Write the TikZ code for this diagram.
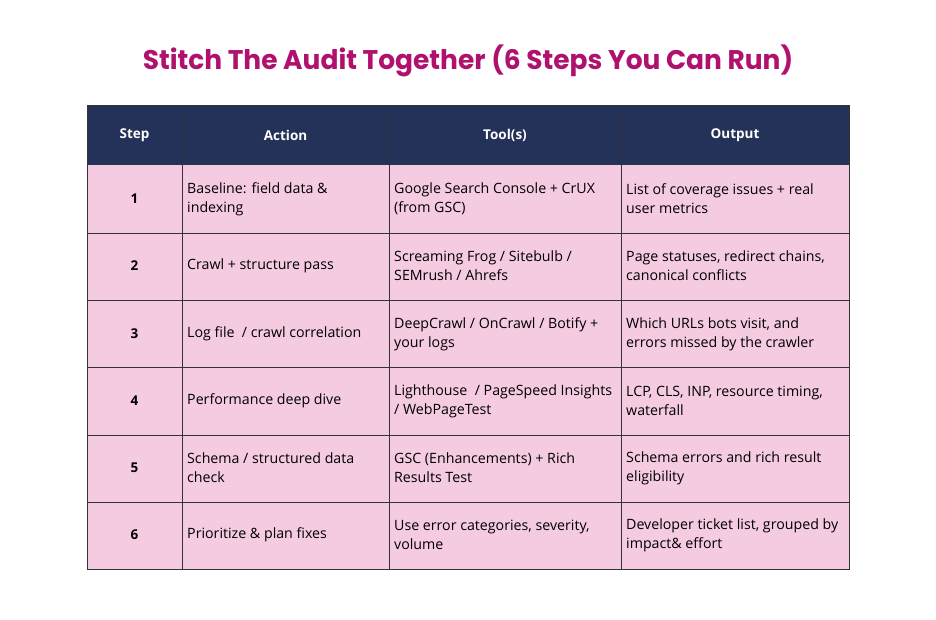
\documentclass[tikz,border=0pt]{standalone}
\usepackage{fontspec}
\setmainfont{Open Sans}
\newfontfamily\titlefont{Poppins}
\definecolor{navy}{HTML}{243158}
\definecolor{rowpink}{HTML}{F5CBE1}
\definecolor{titlemag}{HTML}{B0106E}
\begin{document}
\begin{tikzpicture}[x=1pt,y=-1pt,
  cell/.style={anchor=west,align=left,font=\fontsize{14.2}{19}\selectfont,inner sep=0pt},
  hcell/.style={text=white,font=\fontsize{13.5}{16}\selectfont\bfseries,inner sep=0pt},
  num/.style={font=\fontsize{13.5}{16}\selectfont\bfseries,inner sep=0pt}]
\useasboundingbox (0,0) rectangle (936,620);
\node[font=\titlefont\fontsize{27}{30}\selectfont\bfseries,text=titlemag,xscale=0.98] (title) at (468,61) {Stitch The Audit Together (6 Steps You Can Run)};
\fill[navy] (87,105) rectangle (849,165);
\fill[rowpink] (87,165) rectangle (849,569);
\foreach \y in {233,300,367,435,502} \draw[black!80,line width=0.7pt] (87,\y) -- (849,\y);
\foreach \x in {182,389,621} \draw[black!80,line width=0.7pt] (\x,105) -- (\x,569);
\draw[black!80,line width=0.7pt] (87,105) rectangle (849,569);
\node[hcell] (h1) at (134.5,135) {Step};
\node[hcell] (h2) at (285.5,135) {Action};
\node[hcell] (h3) at (505,135) {Tool(s)};
\node[hcell] (h4) at (735,135) {Output};
\foreach \n/\y/\a/\t/\o in {
 1/199/{Baseline: field data \&\\indexing}/{Google Search Console + CrUX\\(from GSC)}/{List of coverage issues + real\\user metrics},
 2/266/{Crawl + structure pass}/{Screaming Frog / Sitebulb /\\SEMrush / Ahrefs}/{Page statuses, redirect chains,\\canonical conflicts},
 3/334/{Log file\ \ / crawl correlation}/{DeepCrawl / OnCrawl / Botify +\\your logs}/{Which URLs bots visit, and\\errors missed by the crawler},
 4/401/{Performance deep dive}/{Lighthouse\ \ / PageSpeed Insights\\/ WebPageTest}/{LCP, CLS, INP, resource timing,\\waterfall},
 5/468/{Schema / structured data\\check}/{GSC (Enhancements) + Rich\\Results Test}/{Schema errors and rich result\\eligibility},
 6/535/{Prioritize \& plan fixes}/{Use error categories, severity,\\volume}/{Developer ticket list, grouped by\\impact\& effort}} {
  \node[num] (n\n) at (134.5,\y) {\n};
  \node[cell] (a\n) at (187,\y) {\a};
  \node[cell] (t\n) at (394,\y) {\t};
  \node[cell] (o\n) at (626,\y) {\o};
}
\end{tikzpicture}
\end{document}
